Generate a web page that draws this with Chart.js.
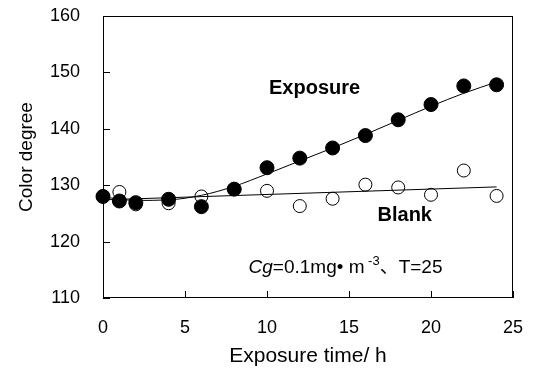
<!DOCTYPE html>
<html>
<head>
<meta charset="utf-8">
<script src="https://cdn.jsdelivr.net/npm/chart.js@4.4.1/dist/chart.umd.min.js"></script>
<style>
  html, body { margin: 0; padding: 0; background: #fff; }
  #wrap { width: 534px; height: 369px; }
</style>
</head>
<body>
<div id="wrap"><canvas id="colorChart" width="534" height="369"></canvas></div>
<script>
// measured points
const hours = [0, 1, 2, 4, 6, 8, 10, 12, 14, 16, 18, 20, 22, 24];
const exposureValues = [128.0, 127.2, 126.9, 127.5, 126.2, 129.3, 133.1, 134.8, 136.6, 138.8, 141.6, 144.3, 147.6, 147.8];
const blankValues = [128.0, 128.8, 126.6, 126.8, 128.0, 129.3, 129.0, 126.3, 127.6, 130.1, 129.6, 128.3, 132.6, 128.1];

// fitted curves
const exposureFitHours = [0, 2, 4, 6, 8, 10, 12, 14, 16, 18, 20, 22, 24];
const exposureFitValues = [127.9, 127.3, 127.4, 128.2, 129.8, 132.0, 134.3, 136.6, 139.0, 141.5, 144.0, 146.3, 148.3];
const blankFitHours = [0, 24];
const blankFitValues = [127.4, 129.7];

const xTicks = [0, 5, 10, 15, 20, 25];
const yTicks = [110, 120, 130, 140, 150, 160];

const FONT = "'Liberation Sans', Arial, sans-serif";

function toPoints(xs, ys) {
    return xs.map((x, i) => ({ x: x, y: ys[i] }));
}

// box around the plot + inward tick marks
const framePlugin = {
    id: "frameTicks",
    beforeDatasetsDraw(chart) {
        const { ctx, chartArea: a, scales } = chart;
        ctx.save();
        ctx.strokeStyle = "#000";
        ctx.lineWidth = 1;
        ctx.strokeRect(a.left + 0.5, a.top + 0.5, a.right - a.left - 1, a.bottom - a.top - 1);
        ctx.beginPath();
        yTicks.forEach(v => {
            const py = Math.round(scales.y.getPixelForValue(v)) + 0.5;
            ctx.moveTo(a.left, py);
            ctx.lineTo(a.left + 7, py);
        });
        xTicks.forEach(v => {
            const px = Math.round(scales.x.getPixelForValue(v)) + 0.5;
            ctx.moveTo(px, a.bottom);
            ctx.lineTo(px, a.bottom - 7);
        });
        ctx.stroke();
        ctx.restore();
    },
    afterDraw(chart) {
        const { ctx, scales } = chart;
        const sx = v => scales.x.getPixelForValue(v);
        const sy = v => scales.y.getPixelForValue(v);
        ctx.save();
        ctx.fillStyle = "#000";
        ctx.textAlign = "center";
        ctx.textBaseline = "middle";
        ctx.font = "bold 20px " + FONT;
        ctx.fillText("Exposure", sx(12.9), sy(147.2));
        ctx.fillText("Blank", sx(18.4), sy(124.7));

        // Cg=0.1mg• m-3、T=25  (right edge + baseline)
        const parts = [
            { t: "Cg", f: "italic 19px " + FONT, dy: 0 },
            { t: "=0.1mg\u2022 m", f: "19px " + FONT, dy: 0 },
            { t: " -3", f: "13px " + FONT, dy: -8 },
            { t: "\u3001", f: "19px 'Noto Sans CJK SC', sans-serif", dy: 0 },
            { t: "T=25", f: "19px " + FONT, dy: 0 }
        ];
        let total = 0;
        parts.forEach(p => { ctx.font = p.f; p.w = ctx.measureText(p.t).width; total += p.w; });
        let x = sx(20.7) - total;
        const base = sy(114.4);
        ctx.textAlign = "left";
        ctx.textBaseline = "alphabetic";
        parts.forEach(p => {
            ctx.font = p.f;
            ctx.fillText(p.t, x, base + p.dy);
            x += p.w;
        });
        ctx.restore();
    }
};

// hidden tick marks only used to push the labels away from the axis
const hiddenGrid = len => ({
    display: true,
    drawOnChartArea: false,
    drawTicks: true,
    tickLength: len,
    tickColor: "rgba(0,0,0,0)"
});

const ctx = document.getElementById("colorChart").getContext("2d");
new Chart(ctx, {
    type: "scatter",
    data: {
        datasets: [
            {
                label: "Exposure",
                data: toPoints(hours, exposureValues),
                pointRadius: 7,
                pointBackgroundColor: "#000",
                pointBorderColor: "#000",
                pointBorderWidth: 1,
                showLine: false,
                clip: false
            },
            {
                label: "Exposure fit",
                data: toPoints(exposureFitHours, exposureFitValues),
                showLine: true,
                borderColor: "#000",
                borderWidth: 1,
                pointRadius: 0,
                cubicInterpolationMode: "monotone",
                clip: false
            },
            {
                label: "Blank fit",
                data: toPoints(blankFitHours, blankFitValues),
                showLine: true,
                borderColor: "#000",
                borderWidth: 1,
                pointRadius: 0,
                clip: false
            },
            {
                label: "Blank",
                data: toPoints(hours, blankValues),
                pointRadius: 6.5,
                pointBackgroundColor: "#fff",
                pointBorderColor: "#000",
                pointBorderWidth: 1,
                showLine: false,
                clip: false
            }
        ]
    },
    options: {
        responsive: false,
        animation: false,
        devicePixelRatio: 1,
        layout: { padding: { top: 16, right: 21, left: 0, bottom: 0 } },
        plugins: {
            legend: { display: false },
            tooltip: { enabled: false }
        },
        scales: {
            x: {
                type: "linear",
                min: 0,
                max: 25,
                afterFit: scale => { scale.height = 71; },
                afterBuildTicks: scale => { scale.ticks = xTicks.map(v => ({ value: v })); },
                grid: hiddenGrid(19),
                border: { display: false },
                ticks: { color: "#000", padding: 0, font: { family: FONT, size: 18 } },
                title: {
                    display: true,
                    text: "Exposure time/ h",
                    color: "#000",
                    padding: { top: 0, bottom: 0 },
                    font: { family: FONT, size: 21 }
                }
            },
            y: {
                min: 110,
                max: 160,
                afterFit: scale => { scale.width = 103; },
                afterBuildTicks: scale => { scale.ticks = yTicks.map(v => ({ value: v })); },
                grid: hiddenGrid(23),
                border: { display: false },
                ticks: { color: "#000", padding: 0, font: { family: FONT, size: 18 } },
                title: {
                    display: true,
                    text: "Color degree",
                    color: "#000",
                    padding: { top: 15, bottom: 0 },
                    font: { family: FONT, size: 19 }
                }
            }
        }
    },
    plugins: [framePlugin]
});
</script>
</body>
</html>
